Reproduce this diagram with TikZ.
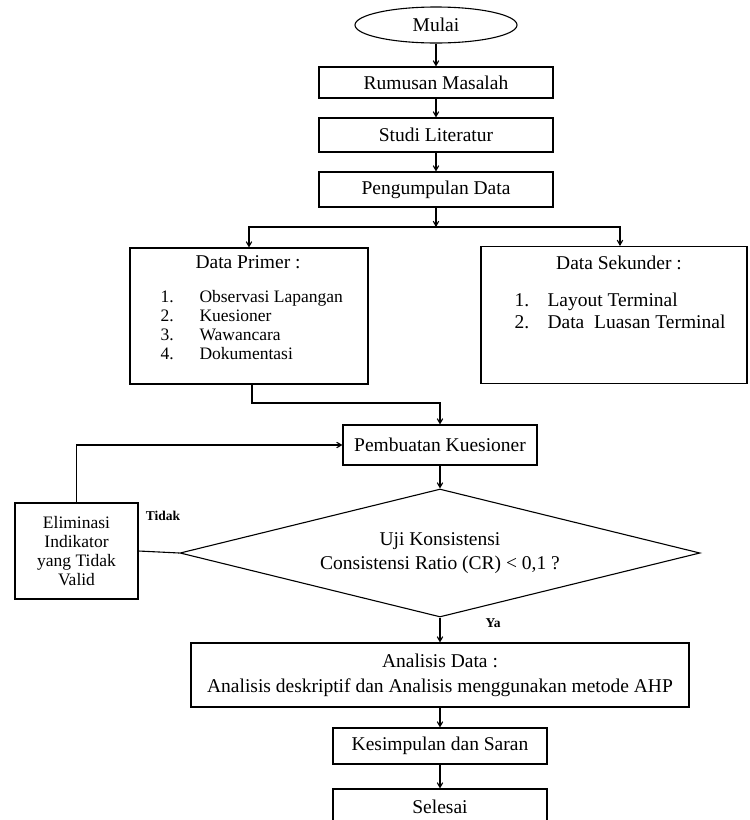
\documentclass[tikz,border=0pt]{standalone}
\usepackage{fontspec}
\setmainfont{Liberation Serif}
\usetikzlibrary{positioning,calc,arrows,shapes.geometric}

\begin{document}
\begin{tikzpicture}[x=1pt, y=-1pt, line width=1.1pt, >=angle 60,
	font=\fontsize{19.5}{22}\selectfont]
	\tikzstyle{box}=[draw, rectangle, inner sep=0pt, align=center]
	\tikzstyle{item}=[anchor=base west, inner sep=0pt]
	\tikzstyle{lbl}=[inner sep=1pt, font=\fontsize{13.5}{15}\selectfont\bfseries]
	\useasboundingbox (0,0) rectangle (750,820);

	\node[draw, ellipse, minimum width=162, minimum height=36, inner sep=0pt] (mulai) at (436,25) {Mulai};
	\node[box, minimum width=234, minimum height=31] (rumusan) at (436,82.5) {Rumusan Masalah};
	\node[box, minimum width=234, minimum height=34] (studi) at (436,135) {Studi Literatur};
	\node[box, minimum width=234, minimum height=35] (kumpul) at (436,189.5) {Pengumpulan Data};

	% data primer dan sekunder
	\node[box, minimum width=238, minimum height=136] (primer) at (249,316) {};
	\node[item] (primerjdl) at (195,268) {Data Primer :};
	\foreach \t [count=\i] in {Observasi Lapangan,Kuesioner,Wawancara,Dokumentasi} {
		\node[item, font=\fontsize{17.5}{19}\selectfont] (pn\i) at (160,283+19*\i) {\i.};
		\node[item, font=\fontsize{17.5}{19}\selectfont] (pt\i) at (199,283+19*\i) {\t};
	}
	\node[box, minimum width=266, minimum height=137] (sekunder) at (614,315) {};
	\node[anchor=base, inner sep=0pt] (sekunderjdl) at (619,269) {Data Sekunder :};
	\node[item] (sn1) at (514,306) {1.};
	\node[item] (st1) at (547,306) {Layout Terminal};
	\node[item] (sn2) at (514,328) {2.};
	\node[item] (st2) at (547,328) {Data\ \ Luasan Terminal};

	\node[box, minimum width=194, minimum height=40] (buat) at (440,445) {Pembuatan Kuesioner};
	\node[draw, diamond, aspect=4, minimum width=520, minimum height=128, inner sep=0pt, align=center] (uji) at (440,553)
		{Uji Konsistensi\\[2pt]Consistensi Ratio (CR) < 0,1 ?};
	\node[box, minimum width=123, minimum height=96, font=\fontsize{17.5}{19}\selectfont] (elim) at (76.5,551)
		{Eliminasi\\Indikator\\yang Tidak\\Valid};
	\node[lbl] (tidak) at (163,516) {Tidak};
	\node[lbl] (ya) at (493,623) {Ya};

	\node[box, minimum width=498, minimum height=64, font=\fontsize{19.5}{25}\selectfont] (analisis) at (440,675)
		{Analisis Data :\\Analisis deskriptif dan Analisis menggunakan metode AHP};
	\node[box, minimum width=214, minimum height=36] (simpul) at (440,746) {Kesimpulan dan Saran};
	\node[box, minimum width=214, minimum height=36] (selesai) at (440,807) {Selesai};

	\coordinate (split) at (436,227);
	\coordinate (gabung) at (440,403);

	\draw[->] (mulai) -- (rumusan);
	\draw[->] (rumusan) -- (studi);
	\draw[->] (studi) -- (kumpul);
	\draw[->] (kumpul) -- (split);
	\draw[->] (split) -| (primer.north);
	\draw[->] (split) -| ($(sekunder.north)+(6,0)$);
	\draw[->] ([xshift=3pt]primer.south) |- (gabung) -- (buat.north);
	\draw[->] (buat) -- (uji);
	\draw (uji.west) -- (elim.east);
	\draw[->] (elim.north) |- (buat.west);
	\draw[->] (uji.south) -- (analisis.north);
	\draw[->] (analisis) -- (simpul);
	\draw[->] (simpul) -- (selesai);
\end{tikzpicture}
\end{document}
